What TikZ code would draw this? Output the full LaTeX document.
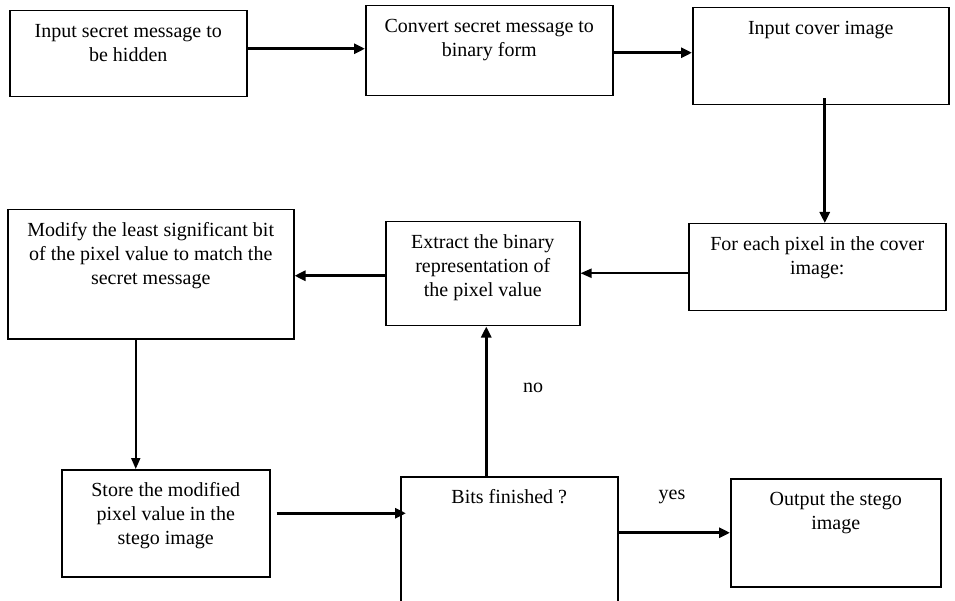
\documentclass[tikz,border=0pt]{standalone}
\usepackage{fontspec}
\setmainfont{Liberation Serif}
\usetikzlibrary{arrows.meta,positioning,calc}
\tikzset{
  stage/.style={draw,line width=1.5pt,inner sep=0pt,anchor=north west},
  flow/.style={line width=3pt,-{Triangle[length=11pt,width=10pt]}},
  thinflow/.style={line width=2pt,-{Triangle[length=11pt,width=9pt]}},
  tag/.style={font=\fontsize{20}{24}\selectfont}
}
\newcommand{\stagetext}[3]{\parbox[c][#2][t]{#1}{\centering\fontsize{20}{24}\selectfont\rule{0pt}{27pt}#3}}

\begin{document}
\begin{tikzpicture}[x=1pt,y=-1pt]
  \useasboundingbox (0,0) rectangle (955,601);
  \clip (0,0) rectangle (955,601);

  % top row
  \node[stage] (secret) at (9,10) {\stagetext{237pt}{86pt}{Input secret message to\\be hidden}};
  \node[stage] (binary) at (365,5) {\stagetext{247pt}{90pt}{Convert secret message to\\binary form}};
  \node[stage] (cover) at (692,7) {\stagetext{256pt}{97pt}{Input cover image}};

  % middle row
  \node[stage] (pixel) at (688,223) {\stagetext{257pt}{87pt}{For each pixel in the cover\\image:}};
  \node[stage] (extract) at (385,221) {\stagetext{194pt}{104pt}{Extract the binary\\representation of\\the pixel value}};
  \node[stage] (modify) at (7,209) {\stagetext{286pt}{129pt}{Modify the least significant bit\\of the pixel value to match the\\secret message}};

  % bottom row
  \node[stage] (store) at (61,469) {\stagetext{208pt}{107pt}{Store the modified\\pixel value in the\\stego image}};
  \node[stage] (bits) at (400,476) {\stagetext{217pt}{160pt}{Bits finished ?}};
  \node[stage] (output) at (730,478) {\stagetext{210pt}{108pt}{Output the stego\\image}};

  % connectors
  \draw[flow] ([yshift=5pt]secret.east) -- ([yshift=5pt]secret.east -| binary.west);
  \draw[flow] ([yshift=-2pt]binary.east) -- ([yshift=-2pt]binary.east -| cover.west);
  \draw[flow] ([xshift=4pt,yshift=7pt]cover.south) -- ([xshift=4pt]cover.south |- pixel.north);
  \draw[thinflow] ([yshift=-6pt]pixel.west) -- ([yshift=-6pt]pixel.west -| extract.east);
  \draw[flow] ([yshift=-2pt]extract.west) -- ([yshift=-2pt]extract.west -| modify.east);
  \draw[thinflow] ([xshift=-15pt]modify.south) -- ([xshift=-15pt]modify.south |- store.north);
  \draw[flow] ([xshift=6pt,yshift=10pt]store.east) -- ([xshift=6pt,yshift=10pt]store.east -| bits.west);
  \draw[flow] ([xshift=-23pt]bits.north) -- ([xshift=-23pt]bits.north |- extract.south);
  \draw[flow] (output.west -| bits.east) -- (output.west);

  % branch labels
  \node[tag] (no) at (533,388) {no};
  \node[tag] (yes) at (672,497) {yes};
\end{tikzpicture}
\end{document}
